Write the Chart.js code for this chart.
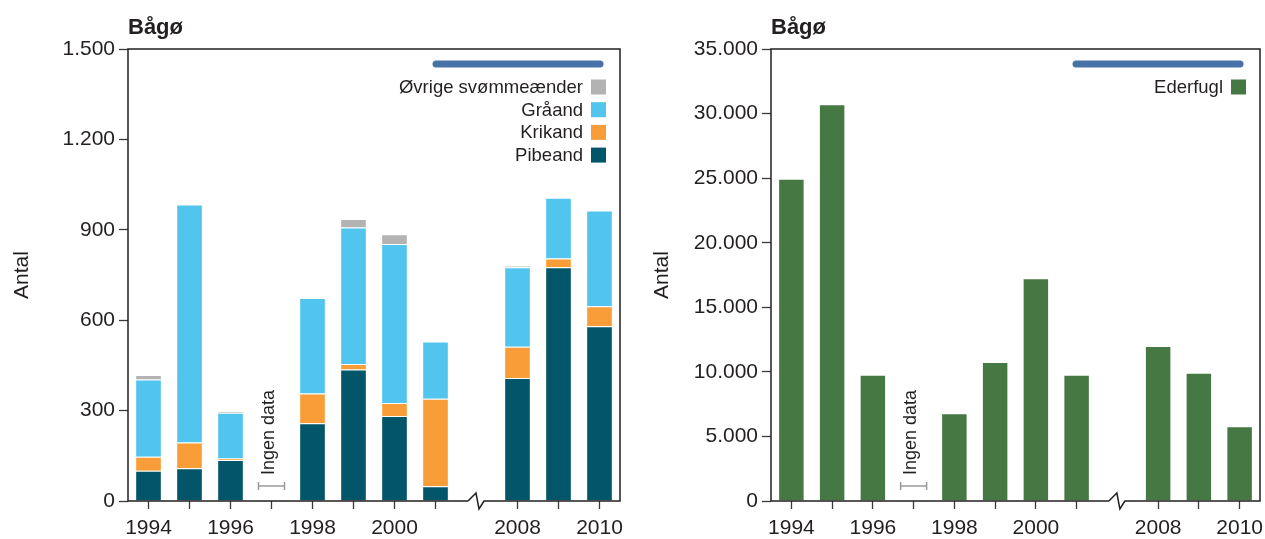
<!DOCTYPE html>
<html>
<head>
<meta charset="utf-8">
<script src="https://cdn.jsdelivr.net/npm/chart.js@4.4.1/dist/chart.umd.min.js"></script>
<style>
  html, body { margin: 0; padding: 0; background: #fff; }
  body { width: 1265px; height: 539px; position: relative; overflow: hidden; }
  canvas { position: absolute; top: 0; }
  #ducks { left: 0; }
  #eiders { left: 640px; }
</style>
</head>
<body>
<canvas id="ducks" width="632" height="539"></canvas>
<canvas id="eiders" width="625" height="539"></canvas>
<script>
// Survey years; the axis is broken between 2001 and 2008
const years = ['1994', '1995', '1996', '1997', '1998', '1999', '2000', '2001', '2008', '2009', '2010'];
const breakAfter = '2001';
const noDataYear = '1997';

// Dabbling ducks (antal), stacked bottom to top
const pibeand = [100, 109, 136, null, 258, 436, 282, 49, 408, 776, 580];
const krikand = [47, 85, 5, null, 99, 19, 43, 290, 104, 29, 66];
const graaand = [256, 790, 152, null, 317, 453, 528, 190, 264, 201, 318];
const oevrige = [15, 0, 4, null, 0, 28, 32, 0, 5, 0, 0];

// Common eider (antal)
const ederfugl = [24950, 30730, 9780, null, 6790, 10760, 17240, 9780, 12000, 9940, 5780];

// Y axis tick values
const duckTicks = [0, 300, 600, 900, 1200, 1500];
const eiderTicks = [0, 5000, 10000, 15000, 20000, 25000, 30000, 35000];

const FONT = '"Liberation Sans", Arial, Helvetica, sans-serif';
const INK = '#231f20';
const gapIndex = years.indexOf(breakAfter) + 1;

// Insert an empty slot where the axis is broken
function withBreak(arr, filler) {
  return [...arr.slice(0, gapIndex), filler, ...arr.slice(gapIndex)];
}

function fmt(v) {
  return String(v).replace(/\B(?=(\d{3})+(?!\d))/g, '.');
}

Chart.defaults.font.family = FONT;
Chart.defaults.color = INK;

// Title, frame with axis break, legend and the "Ingen data" note
const decor = {
  id: 'decor',
  afterDraw(chart, args, opts) {
    const { ctx, chartArea: a, scales: { x } } = chart;
    ctx.save();

    // Title
    ctx.fillStyle = INK;
    ctx.font = 'bold 22px ' + FONT;
    ctx.textAlign = 'left';
    ctx.textBaseline = 'alphabetic';
    ctx.fillText(opts.title, a.left, 34);

    // Frame, with a zigzag break in the x axis
    const bx = x.getPixelForValue(gapIndex);
    const y0 = a.bottom;
    ctx.strokeStyle = INK;
    ctx.lineWidth = 1.5;
    ctx.lineJoin = 'miter';
    ctx.beginPath();
    ctx.moveTo(bx - 8.5, y0);
    ctx.lineTo(a.left, y0);
    ctx.lineTo(a.left, a.top);
    ctx.lineTo(a.right, a.top);
    ctx.lineTo(a.right, y0);
    ctx.lineTo(bx + 7.5, y0);
    ctx.lineTo(bx + 2.5, y0 + 8);
    ctx.lineTo(bx - 0.5, y0 - 8);
    ctx.lineTo(bx - 8.5, y0);
    ctx.stroke();

    // Header bar above the legend
    ctx.strokeStyle = '#4672a8';
    ctx.lineWidth = 7;
    ctx.lineCap = 'round';
    ctx.beginPath();
    ctx.moveTo(a.right - 184, a.top + 15);
    ctx.lineTo(a.right - 20, a.top + 15);
    ctx.stroke();

    // Legend: label to the left of its swatch, top series first
    const items = chart.data.datasets.slice().reverse();
    ctx.font = '18.5px ' + FONT;
    ctx.textAlign = 'right';
    ctx.textBaseline = 'middle';
    items.forEach((ds, i) => {
      const cy = a.top + 38 + i * 22.7;
      const sx = a.right - 14 - 15;
      ctx.fillStyle = ds.backgroundColor;
      ctx.fillRect(sx, cy - 7.5, 15, 15);
      ctx.fillStyle = INK;
      ctx.fillText(ds.label, sx - 8, cy + 1);
    });

    // No survey this year
    const xi = x.getPixelForValue(years.indexOf(noDataYear));
    const by = a.bottom - 15;
    ctx.strokeStyle = '#9a9a9a';
    ctx.lineWidth = 1.5;
    ctx.lineCap = 'butt';
    ctx.beginPath();
    ctx.moveTo(xi - 13, by); ctx.lineTo(xi + 13, by);
    ctx.moveTo(xi - 13, by - 4); ctx.lineTo(xi - 13, by + 4);
    ctx.moveTo(xi + 13, by - 4); ctx.lineTo(xi + 13, by + 4);
    ctx.stroke();
    ctx.translate(xi - 2.5, a.bottom - 26);
    ctx.rotate(-Math.PI / 2);
    ctx.fillStyle = INK;
    ctx.font = '18px ' + FONT;
    ctx.textAlign = 'left';
    ctx.textBaseline = 'middle';
    ctx.fillText('Ingen data', 0, 0);

    ctx.restore();
  }
};

function makeChart(id, cfg) {
  const canvas = document.getElementById(id);
  const W = canvas.width;
  return new Chart(canvas, {
    type: 'bar',
    data: {
      labels: withBreak(years, ''),
      datasets: cfg.series.map(s => ({
        label: s.label,
        data: withBreak(s.data, null),
        backgroundColor: s.color,
        borderColor: 'rgba(255,255,255,0.35)',
        borderWidth: 1,
        barPercentage: 0.65,
        categoryPercentage: 1,
        stack: 'all'
      }))
    },
    options: {
      responsive: false,
      animation: false,
      devicePixelRatio: 1,
      layout: { padding: { top: 49, left: 0, right: W - cfg.right, bottom: 0 } },
      plugins: {
        legend: { display: false },
        tooltip: { enabled: false },
        decor: { title: 'Bågø' }
      },
      scales: {
        x: {
          stacked: true,
          offset: true,
          border: { display: false },
          grid: {
            display: true,
            drawOnChartArea: false,
            offset: false,
            tickLength: 8,
            tickWidth: 1.3,
            tickColor: c => (c.index === gapIndex ? 'rgba(0,0,0,0)' : '#3a3a3a')
          },
          ticks: {
            autoSkip: false,
            maxRotation: 0,
            padding: 7,
            font: { size: 21 },
            color: INK,
            callback(v) {
              const l = this.getLabelForValue(v);
              return l && Number(l) % 2 === 0 ? l : '';
            }
          },
          afterFit(s) {
            s.height = 38;
            // end labels may spill past the frame; keep the plot width fixed
            s.paddingLeft = 0;
            s.paddingRight = 0;
          }
        },
        y: {
          stacked: true,
          min: 0,
          max: cfg.ticks[cfg.ticks.length - 1],
          afterBuildTicks(s) { s.ticks = cfg.ticks.map(v => ({ value: v })); },
          border: { display: false },
          grid: {
            drawOnChartArea: false,
            tickLength: 9,
            tickWidth: 1.3,
            tickColor: '#3a3a3a'
          },
          ticks: {
            padding: 4,
            font: { size: 21 },
            color: INK,
            callback: v => fmt(v)
          },
          title: {
            display: true,
            text: 'Antal',
            font: { size: 21 },
            color: INK,
            padding: { top: 10, bottom: 0 }
          },
          afterFit(s) { s.width = cfg.left; }
        }
      }
    },
    plugins: [decor]
  });
}

makeChart('ducks', {
  left: 128,
  right: 620,
  ticks: duckTicks,
  series: [
    { label: 'Pibeand', data: pibeand, color: '#03566a' },
    { label: 'Krikand', data: krikand, color: '#f89d37' },
    { label: 'Gråand', data: graaand, color: '#52c5ee' },
    { label: 'Øvrige svømmeænder', data: oevrige, color: '#b3b3b3' }
  ]
});

makeChart('eiders', {
  left: 131,
  right: 620,
  ticks: eiderTicks,
  series: [
    { label: 'Ederfugl', data: ederfugl, color: '#467843' }
  ]
});
</script>
</body>
</html>
